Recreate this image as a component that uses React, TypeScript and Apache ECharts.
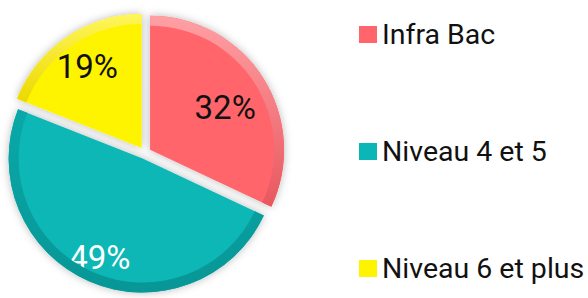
import React, { useEffect, useRef } from "react";
import * as echarts from "echarts";

const categories = ["Infra Bac", "Niveau 4 et 5", "Niveau 6 et plus"];
const values = [32, 49, 19];
const mainColors = ["#ff656a", "#0bb7b6", "#fff400"];
const rimTop = ["#ffa0a4", "#0aa8a8", "#fff65a"];
const rimBottom = ["#e8575e", "#089696", "#ecd800"];
const labelColors = ["#111111", "#ffffff", "#111111"];
const labelShift = [
  [16, -5],
  [-15, 35],
  [-15, -24],
];

export default function App() {
  const ref = useRef<HTMLDivElement>(null);
  useEffect(() => {
    document.body.style.margin = "0";
    const chart = echarts.init(ref.current!, null, { renderer: "svg" });
    const R = 134;
    const rim = 10;
    const center = [145, 153];
    chart.setOption({
      animation: false,
      legend: {
        orient: "vertical",
        left: 354,
        top: 15,
        icon: "rect",
        itemWidth: 18,
        itemHeight: 17,
        itemGap: 88,
        data: categories,
        textStyle: {
          fontFamily: "Roboto",
          fontSize: 28.5,
          lineHeight: 26,
          color: "#111111",
        },
      },
      series: [
        {
          type: "pie",
          center,
          radius: [0, R],
          startAngle: 90,
          clockwise: true,
          selectedMode: "multiple",
          selectedOffset: 6,
          emphasis: { disabled: true },
          itemStyle: { shadowBlur: 8, shadowColor: "rgba(0,0,0,0.28)" },
          label: {
            show: true,
            position: "inside",
            formatter: "{c}%",
            fontFamily: "Roboto",
            fontSize: 33,
          },
          labelLine: { show: false },
          labelLayout: (p: any) => ({
            dx: labelShift[p.dataIndex][0],
            dy: labelShift[p.dataIndex][1],
          }),
          z: 1,
          data: categories.map((name, i) => ({
            name,
            value: values[i],
            selected: true,
            itemStyle: { color: mainColors[i] },
            select: { itemStyle: { color: mainColors[i] } },
            label: { color: labelColors[i] },
          })),
        },
        {
          type: "pie",
          center,
          radius: [R - rim, R],
          startAngle: 90,
          clockwise: true,
          selectedMode: "multiple",
          selectedOffset: 6,
          emphasis: { disabled: true },
          label: { show: false },
          labelLine: { show: false },
          z: 2,
          data: categories.map((name, i) => {
            const c = new echarts.graphic.LinearGradient(0, 0, 0, 1, [
              { offset: 0, color: rimTop[i] },
              { offset: 1, color: rimBottom[i] },
            ]);
            return {
              name,
              value: values[i],
              selected: true,
              itemStyle: { color: c },
              select: { itemStyle: { color: c } },
            };
          }),
        },
      ],
    });
    return () => chart.dispose();
  }, []);
  return <div ref={ref} style={{ width: 588, height: 298 }} />;
}
